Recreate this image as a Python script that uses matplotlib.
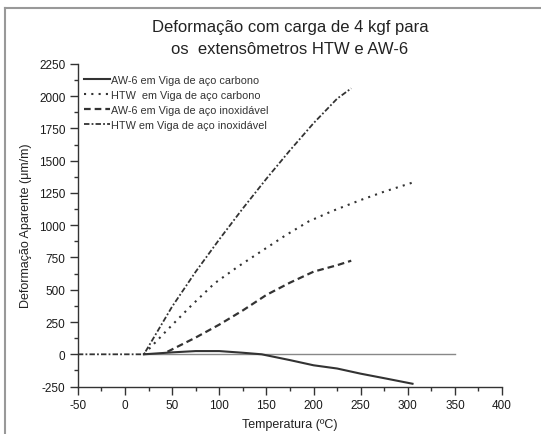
import matplotlib
matplotlib.use("Agg")
import matplotlib.pyplot as plt
from matplotlib.lines import Line2D
from matplotlib.ticker import MultipleLocator

plt.rcParams['font.family'] = ['Liberation Sans', 'DejaVu Sans']
plt.rcParams['axes.unicode_minus'] = False

# Data
temp_aw6_carb = [20, 50, 75, 100, 125, 145, 175, 200, 225, 250, 275, 305]
def_aw6_carb = [0, 15, 25, 25, 12, 0, -45, -85, -110, -150, -185, -228]

temp_htw_carb = [20, 45, 70, 95, 120, 145, 170, 195, 220, 250, 275, 305]
def_htw_carb = [0, 190, 375, 550, 680, 800, 920, 1030, 1110, 1195, 1260, 1330]

temp_aw6_inox = [45, 75, 100, 125, 150, 175, 200, 225, 240]
def_aw6_inox = [20, 130, 230, 340, 460, 555, 640, 690, 725]

temp_htw_inox = [-50, 20, 50, 75, 100, 125, 150, 175, 200, 225, 240]
def_htw_inox = [0, 0, 370, 640, 890, 1130, 1360, 1580, 1790, 1980, 2060]

zero_x = [20, 350]
zero_y = [0, 0]

labels = ["AW-6 em Viga de aço carbono",
          "HTW  em Viga de aço carbono",
          "AW-6 em Viga de aço inoxidável",
          "HTW em Viga de aço inoxidável"]

fig = plt.figure(figsize=(5.41, 4.35), dpi=100)
ax = fig.add_axes([0.144, 0.109, 0.784, 0.742])

ink = '#333333'

# baseline at zero
ax.plot(zero_x, zero_y, color='#888888', lw=1.0, zorder=1)

ax.plot(temp_aw6_carb, def_aw6_carb, color=ink, lw=1.5, ls='-', label=labels[0])
ax.plot(temp_htw_carb, def_htw_carb, color=ink, lw=1.5, ls=(0, (1, 2.5)), label=labels[1])
ax.plot(temp_aw6_inox, def_aw6_inox, color=ink, lw=1.6, ls=(0, (3, 1.8)), label=labels[2])
ax.plot(temp_htw_inox, def_htw_inox, color=ink, lw=1.3, ls=(0, (3, 1.2, 1, 1.2)), label=labels[3])

ax.set_xlim(-50, 400)
ax.set_ylim(-250, 2250)
ax.xaxis.set_major_locator(MultipleLocator(50))
ax.xaxis.set_minor_locator(MultipleLocator(25))
ax.yaxis.set_major_locator(MultipleLocator(250))
ax.yaxis.set_minor_locator(MultipleLocator(125))

for s in ['top', 'right']:
    ax.spines[s].set_visible(False)
for s in ['left', 'bottom']:
    ax.spines[s].set_color(ink)
    ax.spines[s].set_linewidth(1.0)

ax.tick_params(which='major', direction='out', length=6, width=1, color=ink,
               labelsize=8.5, labelcolor='#1a1a1a', pad=3)
ax.tick_params(which='minor', direction='out', length=3, width=1, color=ink)

ax.set_xlabel('Temperatura (ºC)', fontsize=9, color='#222222', labelpad=5)
ax.set_ylabel('Deformação Aparente (μm/m)', fontsize=9, color='#222222', labelpad=5)

ax.set_title('Deformação com carga de 4 kgf para\nos  extensômetros HTW e AW-6',
             fontsize=12, color='#222222', linespacing=1.55, pad=8)

leg = ax.legend(loc='upper left', bbox_to_anchor=(0.0, 0.985), frameon=False,
                fontsize=7.8, handlelength=2.4, handletextpad=0.1,
                labelspacing=0.45, borderaxespad=0.2)
for t in leg.get_texts():
    t.set_color('#333333')

# scan frame
fig.add_artist(Line2D([0.009, 0.009], [0.0, 0.98], transform=fig.transFigure,
                      color='#999999', lw=1.5))
fig.add_artist(Line2D([0.009, 1.0], [0.98, 0.98], transform=fig.transFigure,
                      color='#999999', lw=1.5))

fig.savefig('out.png', dpi=100)
